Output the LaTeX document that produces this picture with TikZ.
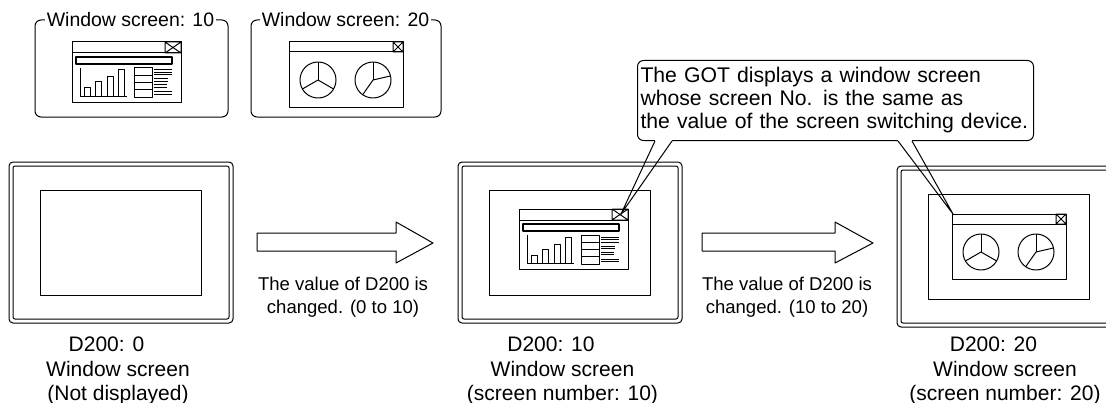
\documentclass[tikz,border=0pt]{standalone}
\usepackage{fontspec}
\setmainfont{Liberation Sans}
\usetikzlibrary{calc}

\begin{document}
\begin{tikzpicture}[
  x=0.75pt, y=-0.75pt,
  line width=0.75pt, line join=round,
  ttl/.style={font=\fontsize{14.6}{16}\selectfont, inner sep=1pt},
  chg/.style={font=\fontsize{13.9}{17.25}\selectfont, align=center, inner sep=0pt},
  lbl/.style={font=\fontsize{15.75}{18.2}\selectfont, align=center, inner sep=0pt},
  note/.style={draw, rounded corners=4.5pt, fill=white, anchor=north west,
    font=\fontsize{15.9}{17.25}\selectfont, align=left,
    text width=292.5pt, inner xsep=2.25pt, inner ysep=0pt, minimum height=60pt},
  barwin/.pic={
    \draw (0,0) rectangle (109,60);
    \draw (0,11) -- (109,11);
    \draw (93,0) rectangle (109,11) (93,0) -- (109,11) (93,11) -- (109,0);
    \draw[line width=1.6pt] (4,15) rectangle (100,22);
    \draw (8,26) -- (8,54) -- (55,54);
    \foreach \bx/\by in {12/46,23/40,35/35,46/28}
      \draw (\bx,54) rectangle (\bx+6,\by);
    \draw (62,26) rectangle (80,55);
    \foreach \ty in {33.25,40.5,47.75}
      \draw (62,\ty) -- (80,\ty);
    \foreach \ly/\lx in {28/100,30.5/100,33/100,37/96,39.5/96,43/95,45.5/95,50/100,52.5/100}
      \draw (82,\ly) -- (\lx,\ly);
  },
  piewin/.pic={
    \draw (0,0) rectangle (114,65);
    \draw (0,10) -- (114,10);
    \draw (104,0) rectangle (114,10) (104,0) -- (114,10) (104,10) -- (114,0);
    \draw (29,38) circle[radius=18];
    \foreach \a in {270,150,30}
      \draw (29,38) -- ++(\a:18);
    \draw (84,38) circle[radius=18];
    \foreach \a in {270,347,125}
      \draw (84,38) -- ++(\a:18);
  },
]
\useasboundingbox (0,0) rectangle (1106,403);

% window screens 10 and 20
\node[ttl] (w10) at (130.5,20) {Window screen: 10};
\draw[rounded corners=4.5pt] (w10.west) -| (35,117) -| (228,20) -- (w10.east);
\pic at (72,42) {barwin};
\node[ttl] (w20) at (345.5,20) {Window screen: 20};
\draw[rounded corners=4.5pt] (w20.west) -| (251,117) -| (441,20) -- (w20.east);
\pic at (289,42) {piewin};

% GOT screens
\foreach \sx/\sy in {9/162,458/162,897/166}{
  \draw[rounded corners=3pt] (\sx,\sy) rectangle ++(224,161);
  \draw[rounded corners=1.5pt] (\sx+4,\sy+4) rectangle ++(216,153);
  \draw (\sx+31,\sy+28) rectangle ++(161,105);
}
\pic at (519,209) {barwin};
\pic at (952,214) {piewin};

% change arrows
\foreach \ax/\hx/\tx in {257/396/433,702/835/873}
  \draw (\ax,233) -- (\hx,233) -- (\hx,222) -- (\tx,243) -- (\hx,263) -- (\hx,251) -- (\ax,251) -- cycle;
\node[chg] (chg1) at (343,297) {The value of D200 is\\changed. (0 to 10)};
\node[chg] (chg2) at (787,297) {The value of D200 is\\changed. (10 to 20)};

% labels
\node[lbl] (lbl1) at (118,371) {D200: 0\hspace*{1.1em}\\Window screen\\(Not displayed)};
\node[lbl] (lbl2) at (562.5,371) {D200: 10\hspace*{1.1em}\\Window screen\\(screen number: 10)};
\node[lbl] (lbl3) at (1005,371) {D200: 20\hspace*{1.1em}\\Window screen\\(screen number: 20)};

% balloon
\node[note] (got) at (637,60) {The GOT displays a window screen\\whose screen No. is the same as\\the value of the screen switching device.};
\coordinate (tipA) at (621,214);
\coordinate (tipB) at (953,214);
\draw[white, line width=1.5pt] ($(got.south west)+(18,0)$) -- ($(got.south west)+(35,0)$)
  ($(got.south west)+(261,0)$) -- ($(got.south west)+(275,0)$);
\draw ($(got.south west)+(18,0)$) -- (tipA) -- ($(got.south west)+(35,0)$);
\draw ($(got.south west)+(261,0)$) -- (tipB) -- ($(got.south west)+(275,0)$);
\end{tikzpicture}
\end{document}
